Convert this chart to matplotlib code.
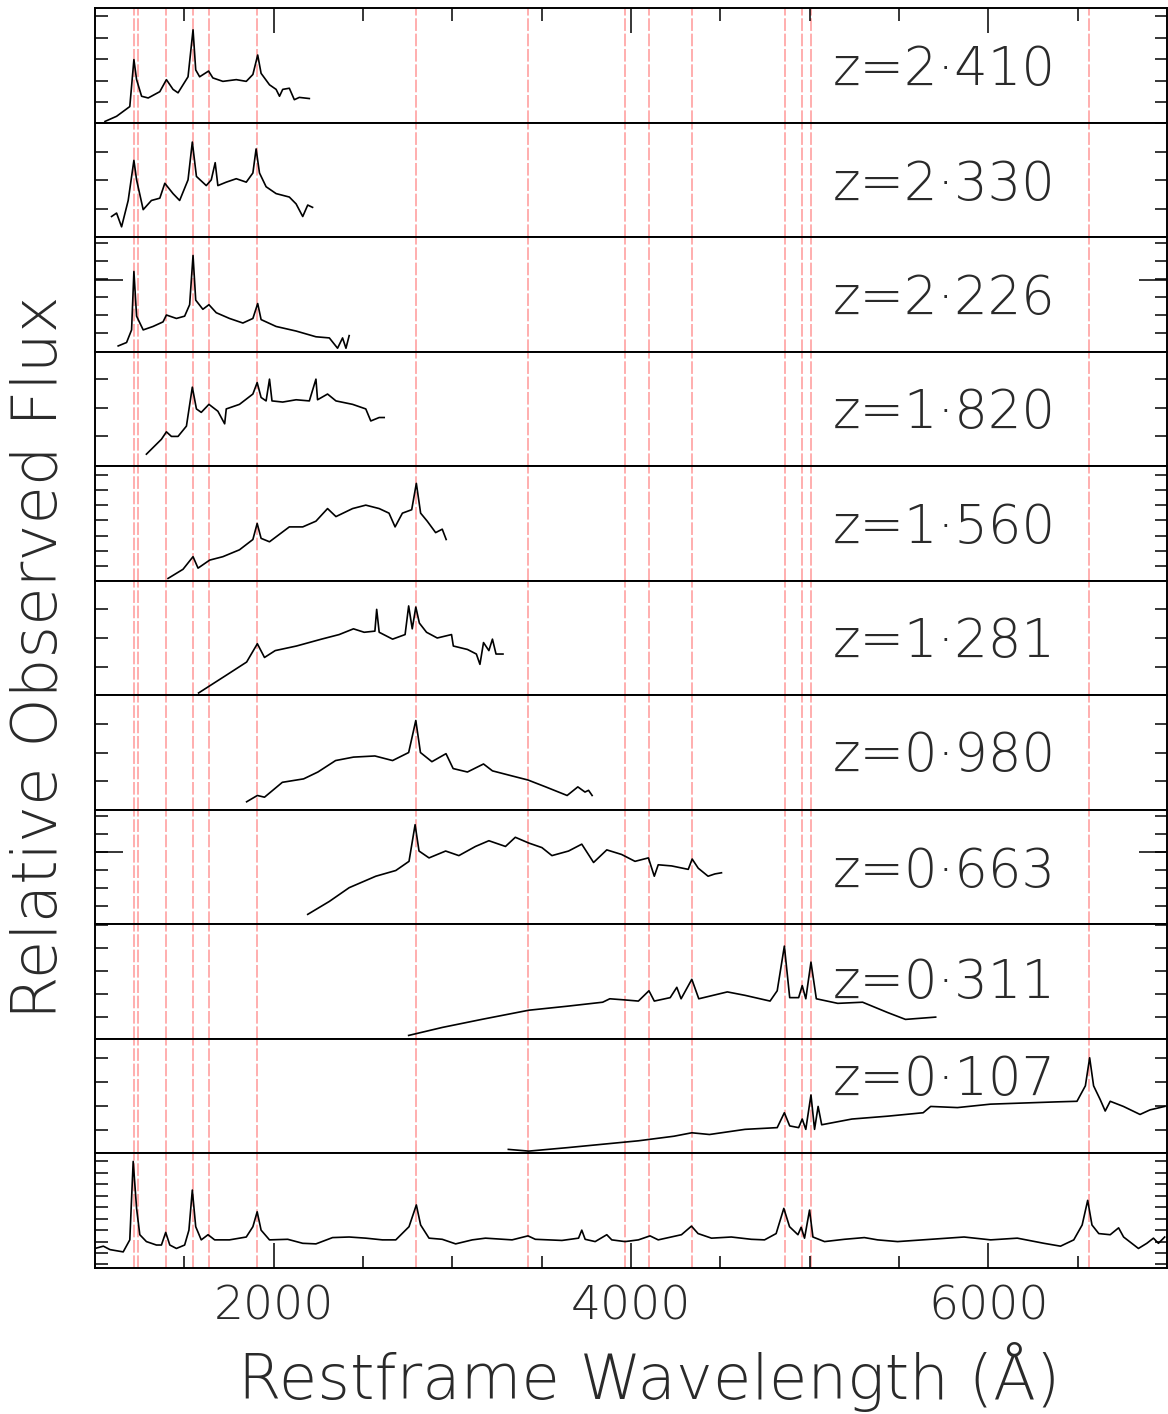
import numpy as np
import matplotlib
matplotlib.use('Agg')
import matplotlib.pyplot as plt

# redshift labels, top to bottom
redshifts = ['2·410', '2·330', '2·226', '1·820', '1·560', '1·281',
             '0·980', '0·663', '0·311', '0·107']

# emission lines marked in every panel (rest wavelength, A)
line_waves = [1216, 1240, 1400, 1549, 1640, 1909, 2798, 3426, 3968,
              4102, 4340, 4861, 4959, 5007, 6563]

# spectra: wavelength (A) and flux (relative, panel units)
wave_2410 = [1056, 1121, 1195, 1218, 1233, 1261, 1298, 1363, 1400, 1437, 1465, 1521,
             1549, 1564, 1586, 1636, 1660, 1716, 1791, 1847, 1884, 1911, 1930, 1977,
             2014, 2033, 2051, 2088, 2116, 2144, 2200]
flux_2410 = [0.01, 0.055, 0.14, 0.55, 0.375, 0.23, 0.215, 0.27, 0.375, 0.29, 0.26, 0.40,
             0.81, 0.46, 0.40, 0.45, 0.39, 0.36, 0.375, 0.36, 0.42, 0.59, 0.43, 0.33,
             0.29, 0.23, 0.29, 0.30, 0.20, 0.22, 0.21]

wave_2330 = [1093, 1121, 1149, 1186, 1218, 1233, 1270, 1316, 1363, 1391, 1437, 1474,
             1521, 1545, 1568, 1623, 1651, 1673, 1688, 1735, 1791, 1847, 1884, 1902,
             1921, 1958, 2014, 2088, 2126, 2163, 2191, 2218]
flux_2330 = [0.18, 0.21, 0.09, 0.32, 0.67, 0.50, 0.24, 0.32, 0.34, 0.47, 0.38, 0.32,
             0.50, 0.83, 0.53, 0.45, 0.50, 0.65, 0.45, 0.48, 0.51, 0.48, 0.56, 0.77,
             0.56, 0.44, 0.38, 0.35, 0.29, 0.18, 0.28, 0.26]

wave_2226 = [1130, 1177, 1205, 1218, 1233, 1270, 1325, 1381, 1400, 1456, 1502, 1530,
             1549, 1564, 1604, 1638, 1679, 1753, 1828, 1884, 1911, 1930, 2014, 2126,
             2237, 2312, 2358, 2386, 2405, 2423]
flux_2226 = [0.05, 0.08, 0.19, 0.70, 0.31, 0.19, 0.22, 0.26, 0.32, 0.29, 0.31, 0.41,
             0.84, 0.45, 0.37, 0.41, 0.34, 0.29, 0.25, 0.29, 0.42, 0.28, 0.22, 0.18,
             0.13, 0.12, 0.03, 0.12, 0.03, 0.14]

wave_1820 = [1288, 1372, 1400, 1428, 1465, 1512, 1545, 1568, 1595, 1638, 1688, 1726,
             1735, 1809, 1884, 1908, 1930, 1958, 1977, 1991, 2051, 2126, 2200, 2237,
             2246, 2302, 2349, 2442, 2516, 2544, 2591, 2619]
flux_1820 = [0.105, 0.235, 0.30, 0.26, 0.26, 0.35, 0.69, 0.50, 0.47, 0.54, 0.48, 0.37,
             0.50, 0.54, 0.63, 0.73, 0.60, 0.57, 0.76, 0.57, 0.56, 0.58, 0.57, 0.76,
             0.58, 0.63, 0.57, 0.54, 0.50, 0.395, 0.425, 0.425]

wave_1560 = [1409, 1493, 1549, 1577, 1642, 1716, 1809, 1884, 1908, 1930, 1977, 2088,
             2163, 2237, 2302, 2349, 2442, 2516, 2591, 2646, 2680, 2721, 2773, 2799,
             2823, 2860, 2907, 2944, 2966]
flux_1560 = [0.02, 0.10, 0.21, 0.11, 0.18, 0.21, 0.27, 0.36, 0.50, 0.37, 0.34, 0.47,
             0.47, 0.52, 0.63, 0.56, 0.63, 0.66, 0.63, 0.59, 0.47, 0.59, 0.62, 0.85,
             0.59, 0.52, 0.42, 0.45, 0.36]

wave_1281 = [1580, 1730, 1849, 1909, 1949, 2009, 2128, 2268, 2367, 2447, 2507, 2567,
             2577, 2591, 2666, 2736, 2756, 2776, 2796, 2816, 2856, 2916, 2996, 3006,
             3085, 3135, 3155, 3175, 3205, 3225, 3245, 3284]
flux_1281 = [0.02, 0.17, 0.29, 0.45, 0.33, 0.39, 0.43, 0.49, 0.53, 0.58, 0.55, 0.56,
             0.75, 0.55, 0.49, 0.53, 0.78, 0.58, 0.77, 0.63, 0.55, 0.50, 0.53, 0.43,
             0.40, 0.36, 0.27, 0.46, 0.39, 0.49, 0.36, 0.36]

wave_0980 = [1849, 1909, 1949, 2049, 2168, 2248, 2347, 2447, 2567, 2666, 2756, 2796,
             2822, 2886, 2965, 3005, 3085, 3175, 3225, 3324, 3424, 3523, 3643, 3703,
             3743, 3763, 3783]
flux_0980 = [0.07, 0.125, 0.11, 0.24, 0.27, 0.33, 0.43, 0.46, 0.47, 0.43, 0.50, 0.78,
             0.50, 0.42, 0.49, 0.36, 0.33, 0.40, 0.34, 0.30, 0.26, 0.20, 0.125, 0.20,
             0.155, 0.17, 0.125]

wave_0663 = [2191, 2312, 2423, 2572, 2684, 2758, 2792, 2814, 2870, 2963, 3037, 3130,
             3205, 3298, 3353, 3428, 3502, 3558, 3651, 3725, 3791, 3865, 3948, 4023,
             4098, 4131, 4153, 4228, 4321, 4343, 4377, 4432, 4470, 4507]
flux_0663 = [0.087, 0.20, 0.32, 0.42, 0.47, 0.55, 0.87, 0.64, 0.58, 0.64, 0.60, 0.68,
             0.73, 0.68, 0.76, 0.71, 0.67, 0.60, 0.64, 0.70, 0.54, 0.65, 0.61, 0.55,
             0.58, 0.42, 0.52, 0.51, 0.48, 0.57, 0.49, 0.42, 0.44, 0.45]

wave_0311 = [2756, 2945, 3165, 3428, 3643, 3842, 3882, 3966, 4042, 4101, 4131, 4220,
             4257, 4281, 4341, 4380, 4540, 4639, 4779, 4819, 4859, 4889, 4939, 4959,
             4979, 5008, 5038, 5158, 5297, 5437, 5537, 5706]
flux_0311 = [0.03, 0.10, 0.17, 0.25, 0.285, 0.32, 0.35, 0.34, 0.33, 0.42, 0.33, 0.36,
             0.45, 0.35, 0.52, 0.35, 0.41, 0.38, 0.33, 0.42, 0.81, 0.36, 0.36, 0.465,
             0.35, 0.67, 0.35, 0.31, 0.32, 0.23, 0.17, 0.19]

wave_0107 = [3314, 3428, 3643, 3842, 4042, 4241, 4341, 4440, 4639, 4819, 4859, 4889,
             4939, 4959, 4979, 5008, 5028, 5048, 5068, 5237, 5437, 5636, 5678, 5828,
             6013, 6199, 6386, 6497, 6544, 6568, 6590, 6627, 6655, 6683, 6757, 6850,
             6906, 6988]
flux_0107 = [0.035, 0.02, 0.05, 0.08, 0.11, 0.15, 0.18, 0.165, 0.21, 0.225, 0.355, 0.24,
             0.225, 0.30, 0.21, 0.51, 0.21, 0.41, 0.25, 0.30, 0.325, 0.355, 0.41, 0.40,
             0.43, 0.44, 0.45, 0.455, 0.59, 0.835, 0.59, 0.47, 0.37, 0.455, 0.41, 0.34,
             0.38, 0.41]

# composite spectrum (bottom panel)
wave_comp = [1000, 1047, 1084, 1158, 1195, 1214, 1233, 1251, 1288, 1344, 1372, 1396,
             1419, 1456, 1502, 1526, 1545, 1564, 1595, 1633, 1670, 1753, 1847, 1884,
             1908, 1930, 1977, 2079, 2163, 2237, 2330, 2423, 2516, 2609, 2684, 2758,
             2799, 2823, 2870, 2944, 3019, 3112, 3186, 3335, 3424, 3465, 3614, 3707,
             3725, 3744, 3800, 3865, 3893, 3967, 4042, 4107, 4153, 4283, 4339, 4376,
             4451, 4562, 4674, 4748, 4813, 4856, 4888, 4935, 4953, 4972, 5000, 5019,
             5084, 5195, 5307, 5381, 5493, 5679, 5865, 6014, 6163, 6312, 6405, 6479,
             6526, 6557, 6581, 6619, 6683, 6730, 6758, 6841, 6888, 6925, 6953, 6988]
flux_comp = [0.17, 0.19, 0.16, 0.14, 0.245, 0.93, 0.52, 0.29, 0.23, 0.20, 0.20, 0.31,
             0.20, 0.17, 0.20, 0.33, 0.68, 0.36, 0.245, 0.29, 0.245, 0.245, 0.27, 0.36,
             0.49, 0.33, 0.245, 0.25, 0.215, 0.21, 0.265, 0.27, 0.26, 0.245, 0.245, 0.36,
             0.55, 0.375, 0.26, 0.25, 0.21, 0.245, 0.26, 0.245, 0.28, 0.25, 0.24, 0.26,
             0.33, 0.25, 0.23, 0.29, 0.245, 0.23, 0.245, 0.28, 0.245, 0.29, 0.365, 0.30,
             0.26, 0.27, 0.25, 0.245, 0.30, 0.52, 0.36, 0.29, 0.355, 0.26, 0.505, 0.27,
             0.23, 0.25, 0.265, 0.245, 0.23, 0.25, 0.27, 0.245, 0.26, 0.215, 0.19, 0.245,
             0.375, 0.59, 0.375, 0.30, 0.29, 0.35, 0.27, 0.17, 0.215, 0.26, 0.215, 0.27]

waves = [wave_2410, wave_2330, wave_2226, wave_1820, wave_1560, wave_1281,
         wave_0980, wave_0663, wave_0311, wave_0107, wave_comp]
fluxes = [flux_2410, flux_2330, flux_2226, flux_1820, flux_1560, flux_1281,
          flux_0980, flux_0663, flux_0311, flux_0107, flux_comp]

# y tick layout per panel: (step, first, long tick)
ytick_step = [0.187, 0.25, 0.157, 0.25, 0.132, 0.25, 0.25, 0.157, 0.2, 0.21, 0.1]
ytick_first = [0.18, 0.245, 0.16, 0.26, 0.13, 0.25, 0.25, 0.16, 0.195, 0.20, 0.03]
ytick_long = [0.741, None, 0.63, None, 0.658, None, None, 0.63, 0.795, 0.83, 0.73]
label_y = [0.33, 0.32, 0.33, 0.33, 0.33, 0.33, 0.34, 0.33, 0.36, 0.51]

plt.rcParams['font.family'] = ['DejaVu Sans']
plt.rcParams['font.weight'] = 'light'
txt_col = '#2a2a2a'
fig, axes = plt.subplots(11, 1, sharex=True, figsize=(11.68, 14.14), dpi=100)
plt.subplots_adjust(left=0.0813, right=0.999, top=0.9943, bottom=0.1033, hspace=0)

for i, ax in enumerate(axes):
    for lw in line_waves:
        ax.axvline(lw, color='#ff7a7a', lw=1.3, ls=(0, (7, 1.5)), alpha=0.65, zorder=1)
    ax.plot(waves[i], fluxes[i], color='black', lw=1.2, zorder=3)
    ax.set_xlim(1000, 7000)
    ax.set_ylim(0, 1)
    for s in ax.spines.values():
        s.set_linewidth(1.4)
    yt = list(np.arange(ytick_first[i], 0.999, ytick_step[i]))
    ax.set_yticks(yt)
    ax.tick_params(axis='y', which='major', direction='in', left=True, right=True,
                   labelleft=False, length=9, width=1.1)
    if ytick_long[i] is not None:
        ax.set_yticks([ytick_long[i]], minor=True)
        ax.tick_params(axis='y', which='minor', direction='in', left=True, right=True,
                       length=20, width=1.1)
    ax.set_xticks([2000, 4000, 6000])
    ax.set_xticks(np.arange(1500, 7000, 500), minor=True)
    ax.tick_params(axis='x', which='both', direction='in', top=(i == 0),
                   bottom=(i == 10), labelbottom=(i == 10), width=1.1)
    ax.tick_params(axis='x', which='major', length=18, labelsize=34, pad=12,
                   labelcolor=txt_col)
    ax.tick_params(axis='x', which='minor', length=9)
    if i < 10:
        ax.text(0.688, label_y[i], 'z=' + redshifts[i], transform=ax.transAxes,
                fontsize=38, va='baseline', ha='left', color=txt_col, zorder=4)

fig.text(0.034, 0.535, 'Relative Observed Flux', rotation=90, fontsize=45,
         ha='center', va='center', color=txt_col)
fig.text(0.556, 0.0105, 'Restframe Wavelength (Å)', fontsize=45,
         ha='center', va='baseline', color=txt_col)

plt.savefig('out.png', dpi=100)
